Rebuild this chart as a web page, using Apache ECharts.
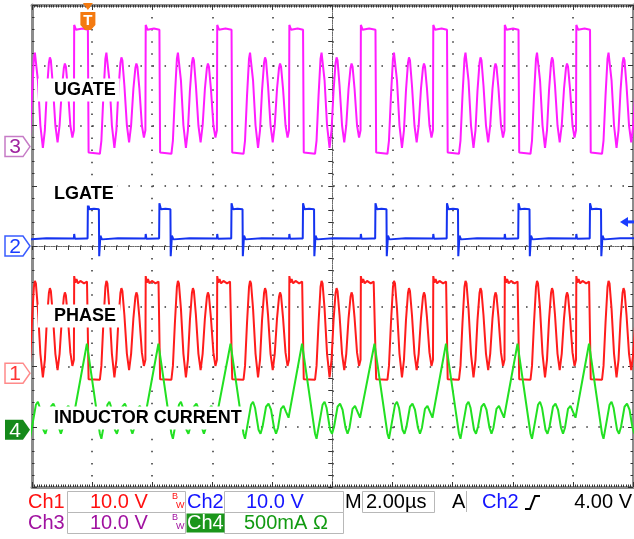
<!DOCTYPE html>
<html>
<head>
<meta charset="utf-8">
<title>UGATE / LGATE / PHASE / inductor current</title>
<script src="https://cdn.jsdelivr.net/npm/echarts@6/dist/echarts.min.js"></script>
<style>
    html, body { margin: 0; padding: 0; background: #fff; }
    #scope { width: 634px; height: 539px; }
</style>
</head>
<body>
<div id="scope"></div>
<script>
    // time axis in µs from the screen centre (2 µs/div)
    // LGATE rising edges, one per switching cycle
    var cycleStarts = [-10.52, -8.14, -5.76, -3.36, -0.98, 1.43, 3.81, 6.19, 8.57];

    // one cycle of each trace: [µs after the LGATE edge, value]
    var ugateCycle = [ // V
        [0, 19.4], [0.023, -1.0], [0.399, -1.2], [0.449, 1.0], [0.516, 8.5], [0.582, 14.6],
        [0.616, 15.6], [0.649, 15.3], [0.716, 11.0], [0.799, 3.5], [0.882, -0.2], [0.948, 2.7],
        [1.015, 9.3], [1.082, 13.9], [1.115, 14.8], [1.148, 14.3], [1.215, 10.1], [1.298, 3.5],
        [1.371, 0.7], [1.438, 3.5], [1.514, 9.6], [1.581, 13.1], [1.614, 13.8], [1.647, 13.3],
        [1.714, 9.6], [1.797, 3.5], [1.864, 1.5], [1.914, 2.7], [1.924, 20.2], [1.98, 19.4], [2.2, 19.6]
    ];
    var lgateCycle = [ // V
        [-0.01, 1.25], [0, 7.1], [0.05, 6.1], [0.2, 6.2], [0.366, 6.1], [0.376, -1.7], [0.416, 1.7],
        [0.466, 1.1], [1.0, 1.3], [1.914, 1.25], [1.924, 2.0], [1.947, 1.2], [2.3, 1.25]
    ];
    var phaseCycle = [ // V
        [0, 15.1], [0.023, -1.0], [0.399, -1.1], [0.449, 1.2], [0.516, 8.4], [0.582, 14.3],
        [0.616, 15.3], [0.649, 14.9], [0.716, 10.7], [0.799, 3.2], [0.882, -0.7], [0.948, 2.2],
        [1.015, 8.8], [1.082, 13.3], [1.115, 14.1], [1.148, 13.6], [1.215, 9.6], [1.298, 3.2],
        [1.371, 0.5], [1.438, 3.2], [1.514, 9.1], [1.581, 12.7], [1.614, 13.4], [1.647, 12.9],
        [1.714, 9.2], [1.797, 3.4], [1.864, 1.2], [1.914, 2.2], [1.924, 16.1], [1.96, 15.0],
        [2.0, 15.6], [2.05, 14.9], [2.13, 15.3], [2.25, 14.9], [2.35, 15.2]
    ];
    var inductorCycle = [ // mA
        [-0.033, 714], [0.399, -33], [0.449, -75], [0.532, 41], [0.649, 207], [0.716, 232],
        [0.782, 183], [0.899, 0], [0.965, -33], [1.032, 25], [1.148, 191], [1.231, 216],
        [1.315, 166], [1.414, 17], [1.481, -33], [1.547, 17], [1.647, 174], [1.73, 199],
        [1.814, 149], [1.897, 100]
    ];

    var triggerTime = -8.14;   // µs
    var triggerLevel = 4.0;    // V on Ch2

    var FONT = '"Liberation Sans", Arial, Helvetica, sans-serif';

    // screen set-up: ground marker position (div from centre) and scale per div
    var channels = [
        {label: 'UGATE', num: '3', data: ugateCycle, pos: 1.65, perDiv: 10, color: '#ff1cff',
            markStroke: '#c67bc6', markFill: '#fff', markText: '#a024a0', labelY: 90},
        {label: 'LGATE', num: '2', data: lgateCycle, pos: 0, perDiv: 10, color: '#1433f0',
            markStroke: '#3a5cff', markFill: '#fff', markText: '#1a3cff', labelY: 194},
        {label: 'PHASE', num: '1', data: phaseCycle, pos: -2.11, perDiv: 10, color: '#ff1c1c',
            markStroke: '#ff8a8a', markFill: '#fff', markText: '#ff3535', labelY: 316},
        {label: 'INDUCTOR CURRENT', num: '4', data: inductorCycle, pos: -3.05, perDiv: 500, color: '#22e022',
            markStroke: null, markFill: '#15891a', markText: '#fff', labelY: 418}
    ];

    function repeatCycle(cycle) {
        var pts = [];
        cycleStarts.forEach(function (t0) {
            cycle.forEach(function (p) {
                pts.push([Math.round((t0 + p[0]) * 1000) / 1000, p[1]]);
            });
        });
        return pts;
    }

    var dots = [1.5, 10.55];
    var tickStyle = {color: '#333', width: 1};

    function centreX(inside) {
        return {
            type: 'value', min: -10, max: 10, interval: 2,
            axisLabel: {show: false},
            axisLine: {show: true, onZero: true, onZeroAxisIndex: 0, lineStyle: {color: '#666', width: 1, type: [1, 1.4]}},
            axisTick: {show: true, inside: inside, length: 4, lineStyle: tickStyle},
            minorTick: {show: true, splitNumber: 5, length: 4, lineStyle: tickStyle},
            splitLine: {show: !inside, lineStyle: {color: '#333', width: 1.5, type: dots}}
        };
    }
    function centreY(inside) {
        return {
            type: 'value', min: -4, max: 4, interval: 1,
            axisLabel: {show: false},
            axisLine: {show: true, onZero: true, onZeroAxisIndex: 0, lineStyle: {color: '#666', width: 1, type: [1, 1.4]}},
            axisTick: {show: true, inside: inside, length: 4, lineStyle: tickStyle},
            minorTick: {show: true, splitNumber: 5, length: 4, lineStyle: tickStyle},
            splitLine: {show: !inside, lineStyle: {color: '#333', width: 1.5, type: dots}}
        };
    }
    function edgeAxis(kind, position, minorSplit) {
        var ax = {
            type: 'value', position: position,
            axisLabel: {show: false},
            axisLine: {show: true, onZero: false, lineStyle: {color: '#8c8c8c', width: 3}},
            axisTick: {show: true, inside: true, length: 5, lineStyle: tickStyle},
            minorTick: {show: true, splitNumber: minorSplit, length: 2.5, lineStyle: tickStyle},
            splitLine: {show: false}
        };
        if (kind === 'x') { ax.min = -10; ax.max = 10; ax.interval = 2; }
        else { ax.min = -4; ax.max = 4; ax.interval = 1; }
        return ax;
    }

    var yAxes = [centreY(false), centreY(true), edgeAxis('y', 'left', 5), edgeAxis('y', 'right', 5)];
    channels.forEach(function (c) {
        yAxes.push({type: 'value', show: false, min: (-4 - c.pos) * c.perDiv, max: (4 - c.pos) * c.perDiv});
    });

    var chart = echarts.init(document.getElementById('scope'));
    chart.setOption({
        animation: false,
        backgroundColor: '#fff',
        grid: {left: 32, right: 1, top: 5, bottom: 52},
        xAxis: [centreX(false), centreX(true), edgeAxis('x', 'top', 25), edgeAxis('x', 'bottom', 25)],
        yAxis: yAxes,
        series: channels.map(function (c, i) {
            return {
                type: 'line', name: c.label, xAxisIndex: 0, yAxisIndex: 4 + i,
                data: repeatCycle(c.data),
                symbol: 'none', showSymbol: false, silent: true, clip: true,
                lineStyle: {color: c.color, width: 2},
                z: 3 + i
            };
        })
    });

    // screen furniture: channel markers, trace names, trigger marks, status bar
    function text(x, y, s, color, font, align, extra) {
        var st = {
            text: s, x: x, y: y, fill: color, font: font,
            align: align || 'left', textAlign: align || 'left',
            verticalAlign: 'middle', textVerticalAlign: 'middle'
        };
        for (var k in (extra || {})) st[k] = extra[k];
        return {type: 'text', z: 102, silent: true, style: st};
    }
    function box(x1, y1, x2, y2, stroke, fill) {
        return {type: 'rect', z: 99, silent: true, shape: {x: x1 + 0.5, y: y1 + 0.5, width: x2 - x1, height: y2 - y1},
            style: {fill: fill || 'none', stroke: stroke || 'none', lineWidth: 1}};
    }

    var g = [];
    channels.forEach(function (c, i) {
        var y0 = chart.convertToPixel({yAxisIndex: 4 + i}, 0);
        g.push({type: 'polygon', z: 99, silent: true,
            shape: {points: [[5, y0 - 10], [23, y0 - 10], [30, y0], [23, y0 + 10], [5, y0 + 10]]},
            style: {fill: c.markFill, stroke: c.markStroke || 'none', lineWidth: 1.5}});
        g.push(text(15, y0 + 1, c.num, c.markText, '21px ' + FONT, 'center'));
        g.push(text(38, c.labelY, c.label, '#000', 'bold 18px ' + FONT, 'left',
            {backgroundColor: '#fff', padding: [3, 4, 2, 16]}));
    });

    var tx = chart.convertToPixel({xAxisIndex: 0}, triggerTime);
    g.push({type: 'polygon', z: 101, silent: true, shape: {points: [[tx - 5, 3], [tx + 5, 3], [tx, 10]]}, style: {fill: '#f47a10'}});
    g.push({type: 'polygon', z: 101, silent: true,
        shape: {points: [[tx - 7.5, 12], [tx + 7.5, 12], [tx + 7.5, 25], [tx + 3, 30], [tx - 3, 30], [tx - 7.5, 25]]},
        style: {fill: '#f47a10'}});
    g.push(text(tx, 20.5, 'T', '#fff', 'bold 15px ' + FONT, 'center'));

    var ty = chart.convertToPixel({yAxisIndex: 5}, triggerLevel);
    g.push({type: 'polygon', z: 101, silent: true, shape: {points: [[620, ty], [628, ty - 5], [628, ty + 5]]}, style: {fill: '#1a3cff'}});
    g.push({type: 'rect', z: 101, silent: true, shape: {x: 627, y: ty - 1.5, width: 7, height: 3}, style: {fill: '#1a3cff'}});

    var sf = '20px ' + FONT;
    var r1 = 502, r2 = 523;
    var red = '#ff1010', blue = '#1414ff', purple = '#a012a0', green = '#119a11', grey = '#b8b8b8';
    g.push(box(67, 491, 185, 512, grey), box(224, 491, 343, 512, grey), box(362, 491, 434, 512, grey));
    g.push(box(67, 512, 185, 533, grey), box(224, 512, 343, 533, grey));
    g.push({type: 'line', z: 99, silent: true, shape: {x1: 466.5, y1: 491, x2: 466.5, y2: 512}, style: {stroke: grey, lineWidth: 1}});
    g.push(box(186, 513, 224, 532, null, '#1a961a'));

    g.push(text(28, r1, 'Ch1', red, sf), text(90, r1, '10.0 V', red, sf));
    g.push(text(172, r1 - 5, 'B', red, '9px ' + FONT), text(176, r1 + 4, 'W', red, '9px ' + FONT));
    g.push(text(187, r1, 'Ch2', blue, sf), text(246, r1, '10.0 V', blue, sf));
    g.push(text(345, r1, 'M', '#000', sf), text(366, r1, '2.00µs', '#000', sf));
    g.push(text(452, r1, 'A', '#000', sf), text(482, r1, 'Ch2', blue, sf));
    g.push({type: 'polyline', z: 100, silent: true, shape: {points: [[525, 509], [530, 509], [535, 496], [540, 496]]},
        style: {stroke: '#000', lineWidth: 2, fill: 'none'}});
    g.push(text(632, r1, '4.00 V', '#000', sf, 'right'));

    g.push(text(28, r2, 'Ch3', purple, sf), text(90, r2, '10.0 V', purple, sf));
    g.push(text(172, r2 - 5, 'B', purple, '9px ' + FONT), text(176, r2 + 4, 'W', purple, '9px ' + FONT));
    g.push(text(187, r2, 'Ch4', '#fff', sf), text(244, r2, '500mA Ω', green, sf));

    chart.setOption({graphic: {elements: g}});
</script>
</body>
</html>
